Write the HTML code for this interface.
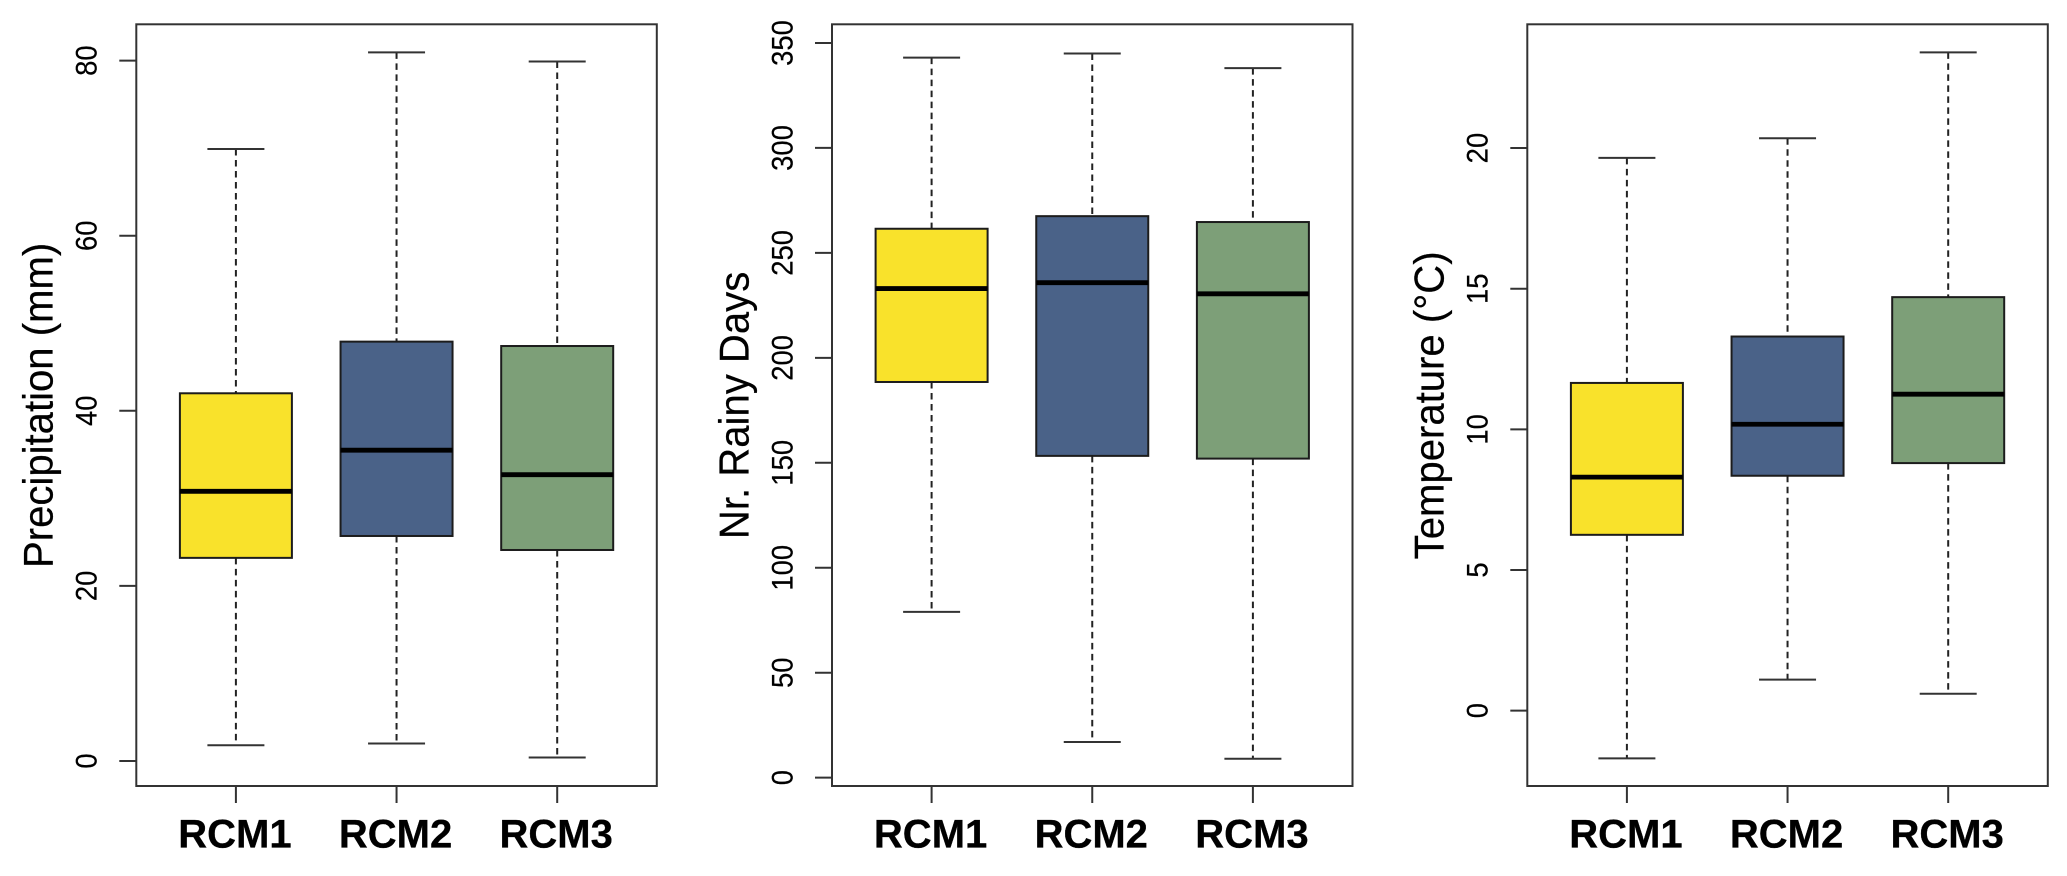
<!DOCTYPE html>
<html lang="en">
<head>
<meta charset="utf-8">
<title>RCM box plots</title>
<style>
html,body{margin:0;padding:0;background:#fff;width:2067px;height:876px;overflow:hidden}
svg{display:block;font-family:"Liberation Sans",Arial,sans-serif}
</style>
</head>
<body>
<svg id="chart" xmlns="http://www.w3.org/2000/svg" width="2067" height="876" viewBox="0 0 2067 876"></svg>
<script>
// Shared data
const categories = ['RCM1', 'RCM2', 'RCM3'];
const boxColors = ['#f9e22b', '#4a6288', '#7d9f78'];

// Precipitation
const precipTitle = 'Precipitation (mm)';
const precipTicks = [0, 20, 40, 60, 80];
const precipDomain = [-2.86, 84.15];
const precipHigh = [69.9, 80.95, 79.9];
const precipQ3 = [42, 47.9, 47.4];
const precipMedian = [30.8, 35.5, 32.7];
const precipQ1 = [23.2, 25.7, 24.1];
const precipLow = [1.8, 2, 0.4];

// Rainy days
const rainyTitle = 'Nr. Rainy Days';
const rainyTicks = [0, 50, 100, 150, 200, 250, 300, 350];
const rainyDomain = [-3.97, 358.9];
const rainyHigh = [343, 345, 338];
const rainyQ3 = [261.5, 267.5, 264.7];
const rainyMedian = [233, 235.8, 230.5];
const rainyQ1 = [188.5, 153.3, 152];
const rainyLow = [79, 17, 9];

// Temperature
const tempTitle = 'Temperature (°C)';
const tempTicks = [0, 5, 10, 15, 20];
const tempDomain = [-2.68, 24.4];
const tempHigh = [19.65, 20.35, 23.4];
const tempQ3 = [11.65, 13.3, 14.7];
const tempMedian = [8.3, 10.18, 11.25];
const tempQ1 = [6.25, 8.35, 8.8];
const tempLow = [-1.7, 1.1, 0.6];

const svg = document.getElementById('chart');
const NS = 'http://www.w3.org/2000/svg';
const plotTop = 24.3;
const plotBottom = 786;
const plotWidth = 520.5;
const xDomain = [0.38, 3.62];
const boxHalf = 56;
const capHalf = 28.5;

function make(parent, tag, attrs, text) {
  const node = document.createElementNS(NS, tag);
  for (const key in attrs) node.setAttribute(key, attrs[key]);
  if (text !== undefined) node.textContent = text;
  parent.appendChild(node);
  return node;
}

function drawPanel(slug, plotLeft, title, ticks, domain, high, q3, median, q1, low) {
  const xScale = function (position) {
    return plotLeft + (position - xDomain[0]) / (xDomain[1] - xDomain[0]) * plotWidth;
  };
  const yScale = function (value) {
    return plotBottom - (value - domain[0]) / (domain[1] - domain[0]) * (plotBottom - plotTop);
  };

  const panel = make(svg, 'g', {});
  
  

  categories.forEach(function (category, i) {
    const cx = xScale(i + 1);
    const group = make(panel, 'g', {});
    
    

    const upper = make(group, 'line', {x1: cx, x2: cx, y1: yScale(high[i]), y2: yScale(q3[i]), stroke: '#222', 'stroke-width': 2, 'stroke-dasharray': '6.5 4.5'});
    
    

    const lower = make(group, 'line', {x1: cx, x2: cx, y1: yScale(q1[i]), y2: yScale(low[i]), stroke: '#222', 'stroke-width': 2, 'stroke-dasharray': '6.5 4.5'});
    
    

    const capHigh = make(group, 'line', {x1: cx - capHalf, x2: cx + capHalf, y1: yScale(high[i]), y2: yScale(high[i]), stroke: '#333', 'stroke-width': 2});
    
    

    const capLow = make(group, 'line', {x1: cx - capHalf, x2: cx + capHalf, y1: yScale(low[i]), y2: yScale(low[i]), stroke: '#333', 'stroke-width': 2});
    
    

    const rect = make(group, 'rect', {x: cx - boxHalf, y: yScale(q3[i]), width: boxHalf * 2, height: yScale(q1[i]) - yScale(q3[i]), fill: boxColors[i], stroke: '#1c1c1c', 'stroke-width': 2});
    
    

    const med = make(group, 'line', {x1: cx - boxHalf, x2: cx + boxHalf, y1: yScale(median[i]), y2: yScale(median[i]), stroke: '#000', 'stroke-width': 4.8});
    
    

    const xTick = make(panel, 'line', {x1: cx, x2: cx, y1: plotBottom, y2: plotBottom + 17, stroke: '#333', 'stroke-width': 2});
    
    

    const xLabel = make(panel, 'text', {x: cx - 1, y: 847.5, 'text-anchor': 'middle', 'font-size': 40, 'font-weight': 'bold', fill: '#000', stroke: '#000', 'stroke-width': 0.3}, category);
    
    
  });

  const frame = make(panel, 'rect', {x: plotLeft, y: plotTop, width: plotWidth, height: plotBottom - plotTop, fill: 'none', stroke: '#333', 'stroke-width': 2});
  
  

  ticks.forEach(function (tick) {
    const y = yScale(tick);
    const yTick = make(panel, 'line', {x1: plotLeft - 17, x2: plotLeft, y1: y, y2: y, stroke: '#333', 'stroke-width': 2});
    
    

    const labelX = plotLeft - 39.6;
    const yLabel = make(panel, 'text', {transform: 'translate(' + labelX + ' ' + y + ') rotate(-90) scale(0.915 1)', 'text-anchor': 'middle', 'font-size': 30, fill: '#000', stroke: '#000', 'stroke-width': 0.2}, String(tick));
    
    
  });

  const titleX = plotLeft - 83.6;
  const titleY = 405.4;
  const yTitle = make(panel, 'text', {transform: 'translate(' + titleX + ' ' + titleY + ') rotate(-90) scale(0.955 1)', 'text-anchor': 'middle', 'font-size': 42, fill: '#000', stroke: '#000', 'stroke-width': 0.2}, title);
  
  
}

drawPanel('precipitation', 136.3, precipTitle, precipTicks, precipDomain, precipHigh, precipQ3, precipMedian, precipQ1, precipLow);
drawPanel('rainy-days', 832, rainyTitle, rainyTicks, rainyDomain, rainyHigh, rainyQ3, rainyMedian, rainyQ1, rainyLow);
drawPanel('temperature', 1527.3, tempTitle, tempTicks, tempDomain, tempHigh, tempQ3, tempMedian, tempQ1, tempLow);
</script>
</body>
</html>
